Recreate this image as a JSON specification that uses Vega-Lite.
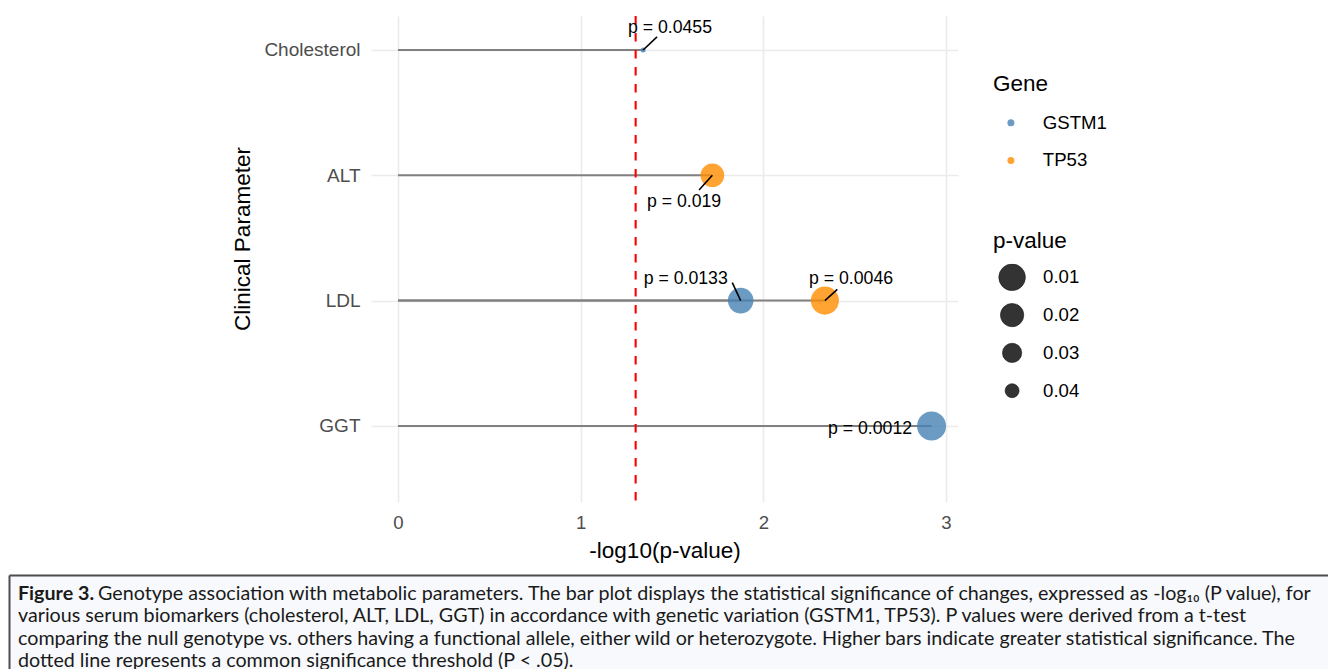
{
  "$schema": "https://vega.github.io/schema/vega-lite/v6.json",
  "background": "white",
  "padding": {"left": 9, "top": 14, "right": 0, "bottom": 0},
  "autosize": {"type": "pad"},
  "config": {
    "view": {"stroke": null},
    "axis": {"labelFont": "Liberation Sans", "titleFont": "Liberation Sans", "titleFontWeight": "normal"},
    "legend": {"labelFont": "Liberation Sans", "titleFont": "Liberation Sans", "titleFontWeight": "normal", "padding": 0},
    "text": {"font": "Liberation Sans"}
  },
  "spacing": 13,
  "align": "none",
  "bounds": "full",
  "vconcat": [
    {
      "spacing": 0,
      "align": "none",
      "bounds": "full",
      "hconcat": [
        {
          "width": 222,
          "height": 200,
          "data": {"values": [{"blank": ""}]},
          "mark": {"type": "text", "opacity": 0},
          "encoding": {"text": {"field": "blank"}}
        },
        {
          "width": 587,
          "height": 486,
          "data": {
            "values": [
              {"param": "Cholesterol", "idx": 4, "gene": "GSTM1", "p": 0.0455, "neglog": 1.342, "label": "p = 0.0455", "lx": 1.489, "ly": 4.176, "sx": 1.418, "sy": 4.104},
              {"param": "ALT", "idx": 3, "gene": "TP53", "p": 0.019, "neglog": 1.721, "label": "p = 0.019", "lx": 1.566, "ly": 2.783, "sx": 1.648, "sy": 2.883},
              {"param": "LDL", "idx": 2, "gene": "GSTM1", "p": 0.0133, "neglog": 1.876, "label": "p = 0.0133", "lx": 1.575, "ly": 2.170, "sx": 1.830, "sy": 2.143},
              {"param": "LDL", "idx": 2, "gene": "TP53", "p": 0.0046, "neglog": 2.337, "label": "p = 0.0046", "lx": 2.480, "ly": 2.170, "sx": 2.405, "sy": 2.090},
              {"param": "GGT", "idx": 1, "gene": "GSTM1", "p": 0.0012, "neglog": 2.921, "label": "p = 0.0012", "lx": 2.584, "ly": 0.977, "sx": 2.921, "sy": 1}
            ]
          },
          "layer": [
            {
              "mark": {"type": "rule", "color": "#808080", "strokeWidth": 2},
              "encoding": {
                "x": {
                  "field": "neglog", "type": "quantitative",
                  "scale": {"domain": [-0.1478, 3.0657], "nice": false, "zero": false},
                  "axis": {
                    "values": [0, 0.5, 1, 1.5, 2, 2.5, 3],
                    "format": "d",
                    "labelExpr": "datum.value % 1 === 0 ? datum.label : ''",
                    "title": "-log10(p-value)",
                    "titleFontSize": 22.5, "titleColor": "black", "titlePadding": 7,
                    "labelFontSize": 18.6, "labelColor": "#4d4d4d", "labelPadding": 11.7,
                    "labelFlush": false, "labelOverlap": false,
                    "domain": false, "ticks": false,
                    "grid": true, "gridColor": "#ebebeb",
                    "gridWidth": {"condition": {"test": "datum.value % 1 === 0", "value": 1.6}, "value": 1.1}
                  }
                },
                "x2": {"datum": 0},
                "y": {
                  "field": "idx", "type": "quantitative",
                  "scale": {"domain": [0.393, 4.271], "nice": false, "zero": false},
                  "axis": {
                    "values": [1, 2, 3, 4],
                    "labelExpr": "datum.value == 4 ? 'Cholesterol' : datum.value == 3 ? 'ALT' : datum.value == 2 ? 'LDL' : 'GGT'",
                    "title": "Clinical Parameter",
                    "titleFontSize": 22.5, "titleColor": "black", "titlePadding": 9.3, "titleY": 222.5,
                    "labelFontSize": 19, "labelColor": "#4d4d4d", "labelPadding": 11,
                    "labelFlush": false, "labelOverlap": false,
                    "domain": false, "ticks": false,
                    "grid": true, "gridColor": "#ebebeb", "gridWidth": 1.6
                  }
                }
              }
            },
            {
              "data": {"values": [{"threshold": 1.30103}]},
              "mark": {"type": "rule", "color": "#ff0000", "strokeWidth": 2.1, "strokeDash": [8.5, 8.5]},
              "encoding": {
                "x": {"field": "threshold", "type": "quantitative"}
              }
            },
            {
              "mark": {"type": "circle", "opacity": 0.8},
              "encoding": {
                "x": {"field": "neglog", "type": "quantitative"},
                "y": {"field": "idx", "type": "quantitative"},
                "color": {
                  "field": "gene", "type": "nominal",
                  "scale": {"domain": ["GSTM1", "TP53"], "range": ["#4682b4", "#ff8c00"]},
                  "legend": {
                    "title": "Gene", "orient": "none", "legendX": 984, "legendY": 57.3,
                    "titleFontSize": 22.5, "titleColor": "black", "titlePadding": 17.6,
                    "labelFontSize": 18.6, "labelColor": "black",
                    "symbolType": "circle", "symbolSize": 49, "symbolOpacity": 0.8, "symbolStrokeWidth": 0,
                    "symbolOffset": 8.6, "labelOffset": 22.6, "rowPadding": 18.7, "clipHeight": 18.6
                  }
                },
                "size": {
                  "field": "p", "type": "quantitative",
                  "scale": {"domain": [0.0012, 0.01, 0.02, 0.03, 0.04, 0.0455], "range": [841, 708, 543, 372, 196, 25]},
                  "legend": {
                    "title": "p-value", "orient": "none", "legendX": 984, "legendY": 214,
                    "values": [0.01, 0.02, 0.03, 0.04],
                    "titleFontSize": 22.5, "titleColor": "black", "titlePadding": 11.2,
                    "labelFontSize": 18.6, "labelColor": "black",
                    "symbolType": "circle", "symbolFillColor": "#333333", "symbolStrokeColor": "#1a1a1a",
                    "symbolStrokeWidth": 0.6, "symbolOpacity": 1,
                    "symbolOffset": 5.1, "labelOffset": 17, "rowPadding": 9.8, "clipHeight": 27.2
                  }
                }
              }
            },
            {
              "mark": {"type": "rule", "color": "black", "strokeWidth": 1.6},
              "encoding": {
                "x": {"field": "neglog", "type": "quantitative"},
                "y": {"field": "idx", "type": "quantitative"},
                "x2": {"field": "sx"},
                "y2": {"field": "sy"}
              }
            },
            {
              "mark": {"type": "text", "fontSize": 17.7, "color": "black", "align": "center", "baseline": "middle"},
              "encoding": {
                "x": {"field": "lx", "type": "quantitative"},
                "y": {"field": "ly", "type": "quantitative"},
                "text": {"field": "label"}
              }
            }
          ]
        }
      ]
    },
    {
      "width": 1319,
      "height": 94,
      "view": {"fill": "#f7f9fc", "stroke": null},
      "data": {
        "values": [
          {"line": 1, "part": "bold", "text": "Figure 3."},
          {"line": 1, "part": "first", "text": "Genotype association with metabolic parameters. The bar plot displays the statistical significance of changes, expressed as -log₁₀ (P value), for"},
          {"line": 2, "part": "body", "text": "various serum biomarkers (cholesterol, ALT, LDL, GGT) in accordance with genetic variation (GSTM1, TP53). P values were derived from a t-test"},
          {"line": 3, "part": "body", "text": "comparing the null genotype vs. others having a functional allele, either wild or heterozygote. Higher bars indicate greater statistical significance. The"},
          {"line": 4, "part": "body", "text": "dotted line represents a common significance threshold (P < .05)."}
        ]
      },
      "encoding": {
        "x": {
          "datum": 0, "type": "quantitative",
          "scale": {"domain": [0, 1], "nice": false, "zero": false},
          "axis": {"orient": "top", "title": null, "labels": false, "ticks": false, "grid": false, "domain": true, "domainColor": "#4d4d4d", "domainWidth": 2}
        },
        "y": {
          "field": "line", "type": "quantitative",
          "scale": {"domain": [-0.121, 4.094], "reverse": true, "nice": false, "zero": false},
          "axis": {"orient": "left", "title": null, "labels": false, "ticks": false, "grid": false, "domain": true, "domainColor": "#4d4d4d", "domainWidth": 2}
        },
        "text": {"field": "text"}
      },
      "layer": [
        {
          "transform": [{"filter": "datum.part == 'bold'"}],
          "mark": {"type": "text", "align": "left", "baseline": "alphabetic", "dx": 9, "font": "Lato", "fontSize": 19.7, "fontWeight": "bold", "color": "#1a1a1a"}
        },
        {
          "transform": [{"filter": "datum.part == 'first'"}],
          "mark": {"type": "text", "align": "left", "baseline": "alphabetic", "dx": 89, "font": "Lato", "fontSize": 19.7, "color": "#1a1a1a"}
        },
        {
          "transform": [{"filter": "datum.part == 'body'"}],
          "mark": {"type": "text", "align": "left", "baseline": "alphabetic", "dx": 9, "font": "Lato", "fontSize": 19.7, "color": "#1a1a1a"}
        }
      ]
    }
  ]
}
